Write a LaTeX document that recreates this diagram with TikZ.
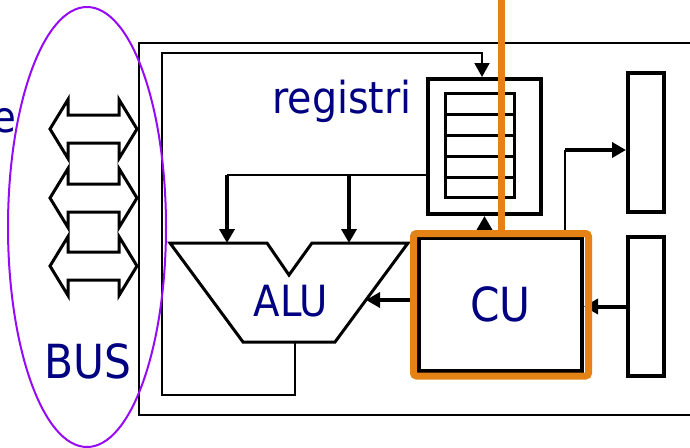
\documentclass[tikz,border=0pt]{standalone}
\usepackage{fontspec}
\setmainfont[FakeStretch=0.9]{DejaVu Sans}
\usetikzlibrary{arrows.meta}
\definecolor{navy}{RGB}{0,0,128}
\definecolor{cuorange}{RGB}{228,130,22}
\definecolor{busviolet}{RGB}{150,10,245}

\begin{document}
\begin{tikzpicture}[x=1pt, y=-1pt, >={Triangle[length=14pt,width=15pt]},
  txt/.style={text=navy, inner sep=0pt},
  midtext/.style={txt, font=\fontsize{43}{43}\selectfont},
  bigtext/.style={txt, font=\fontsize{47}{47}\selectfont},
  box/.style={draw, line width=4pt, inner sep=0pt},
  wire/.style={line width=2pt},
  bigarrow/.style={->, line width=4pt}]
  \useasboundingbox (0,0) rectangle (690,447);
  \clip (0,0) rectangle (690,447);
  % frame of the computer
  \draw[line width=2.5pt] (700,43) -- (139,43) -- (139,415) -- (700,415);
  % registri
  \node[box, minimum width=113, minimum height=135] (reg) at (484.5,146.5) {};
  \node[box, line width=3pt, minimum width=69, minimum height=104] (stack) at (479.5,145) {};
  \foreach \y in {114,135,156,177}
    \draw[line width=3pt] (stack.west |- 0,\y) -- (stack.east |- 0,\y);
  \node[midtext, font=\fontsize{44}{44}\selectfont, anchor=base west] (reglabel) at (272,113) {registri};
  % CU and the two blocks on the right
  \node[box, minimum width=163, minimum height=133, bigtext] (cu) at (500.5,304.5) {CU};
  \node[box, minimum width=36, minimum height=139] (out1) at (646,142.5) {};
  \node[box, minimum width=36, minimum height=139] (out2) at (646,306.5) {};
  % ALU
  \coordinate (aluA) at (170,243);
  \coordinate (aluB) at (267,243);
  \coordinate (aluV) at (289,275);
  \coordinate (aluC) at (312,243);
  \coordinate (aluD) at (408,243);
  \coordinate (aluE) at (335,342);
  \coordinate (aluF) at (243,342);
  \draw[line width=3pt, line join=miter] (aluA) -- (aluB) -- (aluV) -- (aluC) -- (aluD) -- (aluE) -- (aluF) -- cycle;
  \node[midtext] (alulabel) at (291,301) {ALU};
  % registri to ALU
  \coordinate (fork1) at (227,175);
  \coordinate (fork2) at (349,175);
  \draw[wire] (fork1 -| reg.west) -- (fork1);
  \draw[bigarrow] (fork1) -- (fork1 |- aluA);
  \draw[bigarrow] (fork2) -- (fork2 |- aluA);
  % ALU back to registri
  \coordinate (aluout) at (295,342);
  \draw[wire, ->] (aluout) -- (295,395) -- (162,395) -- (162,53) -- (482,53) -- ([xshift=-2.5pt]reg.north);
  % CU outputs
  \coordinate (aluin) at (366,300);
  \draw[bigarrow] (aluin -| cu.west) -- (aluin);
  \draw[bigarrow] (cu.north -| reg.south) -- (reg.south);
  \coordinate (tap) at (565,150);
  \draw[wire] (tap |- cu.north) -- (tap);
  \draw[bigarrow] (tap) -- (tap -| out1.west);
  \draw[bigarrow] (out2.west) -- (out2.west -| cu.east);
  % orange frame round CU
  \node[draw=cuorange, line width=7pt, rounded corners=3pt, minimum width=175, minimum height=142.5] (cuframe) at (501,304.75) {};
  \coordinate (feed) at (501,-5);
  \draw[cuorange, line width=7pt] (feed) -- (cuframe.north);
  % BUS
  \foreach \y in {129,198,266}
    \draw[line width=3pt, line join=miter] (50,\y) -- ++(18,-29.5) -- ++(0,15.5) -- ++(51,0) -- ++(0,-15.5) -- ++(18,29.5)
      -- ++(-18,29.5) -- ++(0,-15.5) -- ++(-51,0) -- ++(0,15.5) -- cycle;
  \draw[busviolet, line width=2pt] (87,227) ellipse [x radius=79, y radius=220];
  \node[bigtext, anchor=base] (buslabel) at (87.5,378) {BUS};
  \node[midtext, anchor=base east] (elabel) at (17,132) {e};
\end{tikzpicture}
\end{document}
